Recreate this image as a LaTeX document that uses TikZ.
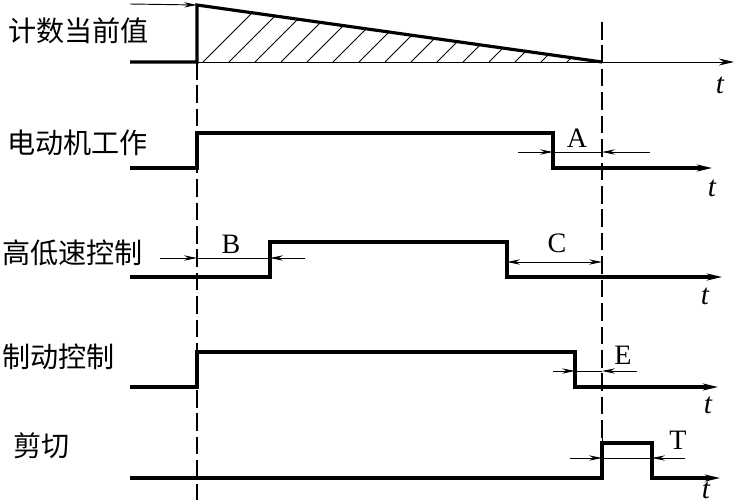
\documentclass[tikz,border=0pt]{standalone}
\usepackage{fontspec}
\setmainfont{Liberation Serif}
\newfontfamily\cjk{Noto Sans CJK SC}
\usetikzlibrary{arrows.meta,positioning,calc}

\begin{document}
\begin{tikzpicture}[
x=0.03cm, y=-0.03cm,
signal/.style={line width=2.7pt, line join=miter},
axisarrow/.style={-{Stealth[length=13pt,width=6pt]}},
guide/.style={line width=1.1pt, dash pattern=on 15pt off 5pt},
dim/.style={line width=0.8pt},
dimtip/.style={dim, -{Stealth[length=11pt,width=4.5pt]}},
hatch/.style={line width=0.7pt},
rowlabel/.style={anchor=west, inner sep=0pt, font=\cjk\fontsize{24}{24}\selectfont},
letterlabel/.style={inner sep=0pt, font=\fontsize{24}{24}\selectfont},
tlabel/.style={inner sep=0pt, font=\itshape\fontsize{25}{25}\selectfont}
]
\useasboundingbox (0,0) rectangle (739,503);

% ================= DASHED GUIDES =================
\coordinate (startA) at (197,62);
\coordinate (startB) at (197,500);
\coordinate (stopA) at (602,22);
\coordinate (stopB) at (602,443);
\draw[guide] (startA) -- (startB);
\draw[guide] (stopA) -- (stopB);

% ================= ROW 1: COUNT VALUE =================
\node[rowlabel] (cntlabel) at (8,31) {计数当前值};
\coordinate (cntL) at (130,62);
\coordinate (cnt0) at (197,62);
\coordinate (cntTop) at (197,5);
\coordinate (cnt1) at (602,62);
\coordinate (cntR) at (734,62);
\coordinate (cntIn) at (130,4);
\begin{scope}
\clip (cnt0) -- (cntTop) -- (cnt1) -- cycle;
\foreach \i in {0,...,17}
  \draw[hatch] ({203+\i*26},62) -- ++(70,-70);
\end{scope}
\draw[dim, axisarrow] (cnt0) -- (cntR);
\draw[signal] (cntL) -- (cnt0) -- (cntTop) -- (cnt1);
\draw[dimtip] (cntIn) -- (cntTop);
\node[tlabel] (t1) at (720,85) {t};

% ================= ROW 2: MOTOR =================
\node[rowlabel] (motlabel) at (7,143) {电动机工作};
\draw[signal, axisarrow] (130,168) coordinate (motL) -- (197,168) -- (197,133)
  -- (553,133) coordinate (motOff) -- (553,168) -- (712,168) coordinate (motR);
\coordinate (aL) at (518,152);
\coordinate (a1) at (553,152);
\coordinate (a2) at (602,152);
\coordinate (aR) at (650,152);
\draw[dimtip] (aL) -- (a1);
\draw[dimtip] (aR) -- (a2);
\draw[dim] (a1) -- (a2);
\node[letterlabel] (markA) at (577,138) {A};
\node[tlabel] (t2) at (712,188) {t};

% ================= ROW 3: HIGH / LOW SPEED =================
\node[rowlabel] (spdlabel) at (2,253) {高低速控制};
\draw[signal, axisarrow] (130,277) coordinate (spdL) -- (270,277) -- (270,242)
  -- (507,242) -- (507,277) -- (722,277) coordinate (spdR);
\coordinate (bL) at (160,258);
\coordinate (b1) at (197,258);
\coordinate (b2) at (270,258);
\coordinate (bR) at (305,258);
\draw[dimtip] (bL) -- (b1);
\draw[dimtip] (bR) -- (b2);
\draw[dim] (b1) -- (b2);
\node[letterlabel] (markB) at (231,244) {B};
\coordinate (c1) at (507,262);
\coordinate (c2) at (602,262);
\draw[dim, {Stealth[length=11pt,width=4.5pt]}-{Stealth[length=11pt,width=4.5pt]}] (c1) -- (c2);
\node[letterlabel] (markC) at (557,243) {C};
\node[tlabel] (t3) at (705,296) {t};

% ================= ROW 4: BRAKE =================
\node[rowlabel] (brklabel) at (2,357) {制动控制};
\draw[signal, axisarrow] (130,387) coordinate (brkL) -- (197,387) -- (197,352)
  -- (575,352) -- (575,387) -- (718,387) coordinate (brkR);
\coordinate (eL) at (553,371);
\coordinate (e1) at (575,371);
\coordinate (e2) at (602,371);
\coordinate (eR) at (637,371);
\draw[dimtip] (eL) -- (e1);
\draw[dimtip] (eR) -- (e2);
\draw[dim] (e1) -- (e2);
\node[letterlabel] (markE) at (623,355) {E};
\node[tlabel] (t4) at (708,405) {t};

% ================= ROW 5: CUTTING =================
\node[rowlabel] (cutlabel) at (13,446) {剪切};
\draw[dim] (602,420) coordinate (cutG) -- (stopB);
\draw[signal, axisarrow] (130,478) coordinate (cutL) -- (602,478) -- (602,443)
  -- (652,443) -- (652,478) -- (720,478) coordinate (cutR);
\coordinate (tL) at (570,458);
\coordinate (t1p) at (602,458);
\coordinate (t2p) at (652,458);
\coordinate (tR) at (685,458);
\draw[dimtip] (tL) -- (t1p);
\draw[dimtip] (tR) -- (t2p);
\draw[dim] (t1p) -- (t2p);
\node[letterlabel] (markT) at (678,440) {T};
\node[tlabel] (t5) at (706,490) {t};

\end{tikzpicture}
\end{document}
